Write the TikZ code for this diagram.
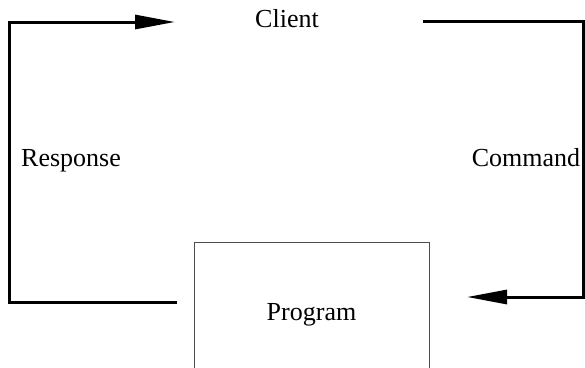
\documentclass[tikz,border=0pt]{standalone}
\usepackage{fontspec}
\setmainfont{Liberation Serif}
\usetikzlibrary{arrows.meta}

\begin{document}
\begin{tikzpicture}[x=1pt,y=-1pt,
    flow/.style={line width=3pt,-{Triangle[length=40pt,width=14pt]}},
    label/.style={anchor=base,font=\fontsize{26}{31}\selectfont}]
    \clip (0,0) rectangle (585,367);

    % Textes
    \node[label] (client) at (287,27) {Client};
    \node[label] (response) at (71,166) {Response};
    \node[label] (command) at (526,166) {Command};
    \node[draw=black!70,line width=1pt,minimum width=235pt,minimum height=146pt,
          font=\fontsize{26}{31}\selectfont] (program) at (311.5,315) {Program};

    % Extremites des fleches
    \coordinate (rs) at (177,302);
    \coordinate (re) at (175,22);
    \coordinate (cs) at (423,21);
    \coordinate (ce) at (467,297);

    % Fleches
    \draw[flow] (rs) -- (9.5,302) -- (9.5,22) -- (re);
    \draw[flow] (cs) -- (583.5,21) -- (583.5,297) -- (ce);

\end{tikzpicture}
\end{document}
